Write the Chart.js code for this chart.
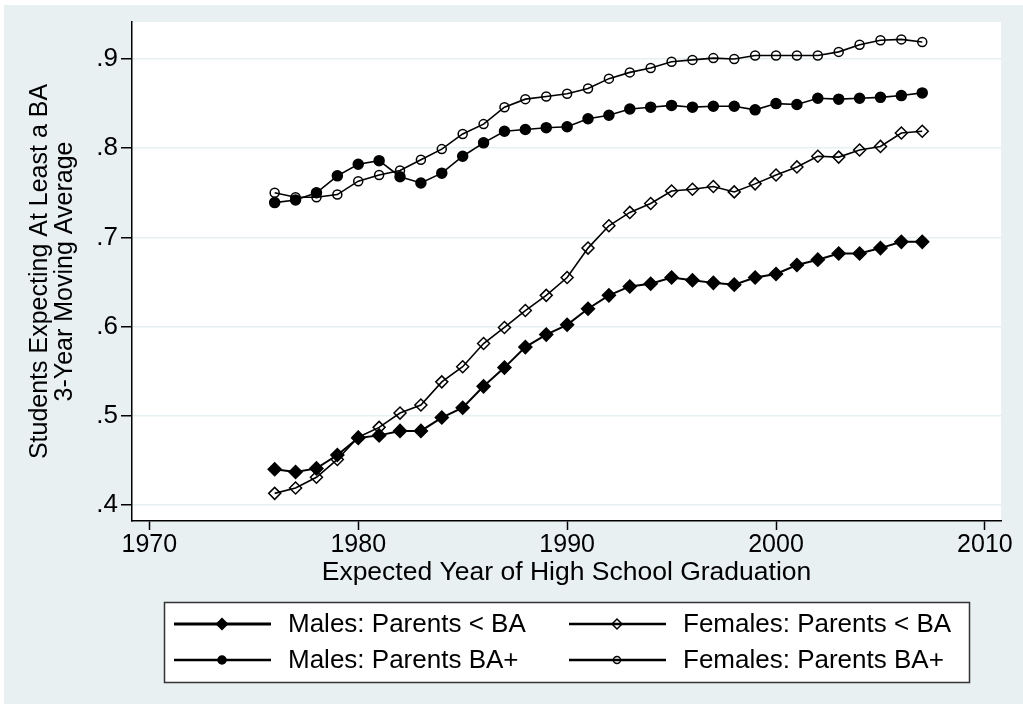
<!DOCTYPE html>
<html>
<head>
<meta charset="utf-8">
<title>Students Expecting At Least a BA</title>
<script src="https://cdn.jsdelivr.net/npm/chart.js@4"></script>
<style>
  html, body { margin: 0; padding: 0; background: #fff; }
  #wrap { width: 1023px; height: 704px; }
</style>
</head>
<body>
<div id="wrap"><canvas id="chart" width="1023" height="704"></canvas></div>
<script>
// years and 3-year moving averages
const years = [1976, 1977, 1978, 1979, 1980, 1981, 1982, 1983, 1984, 1985, 1986, 1987, 1988, 1989, 1990, 1991,
               1992, 1993, 1994, 1995, 1996, 1997, 1998, 1999, 2000, 2001, 2002, 2003, 2004, 2005, 2006, 2007];
const malesNoBA = [.440, .437, .441, .456, .475, .478, .483, .483, .498, .509, .533, .554, .577, .591, .602, .620,
                   .635, .645, .648, .655, .652, .649, .647, .655, .659, .669, .675, .682, .682, .688, .695, .695];
const femalesNoBA = [.413, .419, .431, .451, .476, .487, .503, .512, .538, .555, .581, .599, .618, .635, .655, .688,
                     .713, .728, .738, .752, .754, .757, .751, .760, .770, .779, .791, .790, .798, .802, .817, .819];
const malesBA = [.739, .742, .750, .769, .782, .786, .768, .761, .772, .791, .806, .819, .821, .823, .824, .833,
                 .837, .844, .846, .848, .846, .847, .847, .843, .850, .849, .856, .855, .856, .857, .859, .862];
const femalesBA = [.750, .745, .745, .748, .763, .770, .775, .787, .799, .816, .827, .846, .855, .858, .861, .867,
                   .878, .885, .890, .897, .899, .901, .900, .904, .904, .904, .904, .908, .916, .921, .922, .919];

const xTicks = [1970, 1980, 1990, 2000, 2010];
const yTicks = [0.4, 0.5, 0.6, 0.7, 0.8, 0.9];
const seriesNames = ['Males: Parents < BA', 'Females: Parents < BA', 'Males: Parents BA+', 'Females: Parents BA+'];

const FONT = 'Liberation Sans, Arial, sans-serif';
const BG = '#e8f0f2';

function pts(vals) {
    return years.map((yr, i) => ({ x: yr, y: vals[i] }));
}

function series(label, vals, style, radius, filled, width) {
    return {
        label: label,
        data: pts(vals),
        borderColor: '#000',
        borderWidth: width,
        pointStyle: style,
        pointRadius: radius,
        pointHoverRadius: radius,
        pointBorderWidth: 1.5,
        pointBorderColor: '#000',
        pointBackgroundColor: filled ? '#000' : 'rgba(0,0,0,0)',
        tension: 0,
        fill: false,
        legendLine: width + 1
    };
}

// page background and white plot region
const backdrop = {
    id: 'backdrop',
    beforeDraw(chart) {
        const { ctx, chartArea: a } = chart;
        ctx.save();
        ctx.fillStyle = '#fff';
        ctx.fillRect(0, 0, chart.width, chart.height);
        ctx.fillStyle = BG;
        ctx.fillRect(4, 5, chart.width - 4, chart.height - 5);
        ctx.fillStyle = '#fff';
        ctx.fillRect(a.left, a.top, a.right - a.left, a.bottom - a.top);
        ctx.restore();
    }
};

// boxed two-column legend below the plot
const boxLegend = {
    id: 'boxLegend',
    afterDraw(chart) {
        const ctx = chart.ctx;
        ctx.save();
        ctx.fillStyle = '#fff';
        ctx.fillRect(164, 602, 805, 80);
        ctx.strokeStyle = '#333';
        ctx.lineWidth = 1.5;
        ctx.strokeRect(164.5, 602.5, 805, 80);

        const colX = [174, 569];
        const rowY = [624, 660];
        chart.data.datasets.forEach((ds, i) => {
            const x0 = colX[i % 2];
            const y = rowY[Math.floor(i / 2)];
            ctx.strokeStyle = '#000';
            ctx.lineWidth = ds.legendLine;
            ctx.beginPath();
            ctx.moveTo(x0, y);
            ctx.lineTo(x0 + 97, y);
            ctx.stroke();

            ctx.fillStyle = ds.pointBackgroundColor;
            ctx.strokeStyle = '#000';
            ctx.lineWidth = 1.5;
            Chart.helpers.drawPoint(ctx, {
                pointStyle: ds.pointStyle,
                radius: ds.pointRadius - 1,
                borderWidth: 1.5,
                rotation: 0
            }, x0 + 48, y);

            ctx.fillStyle = '#000';
            ctx.font = '26px ' + FONT;
            ctx.textBaseline = 'middle';
            ctx.textAlign = 'left';
            ctx.fillText(ds.label, x0 + 114, y + 1);
        });
        ctx.restore();
    }
};

new Chart(document.getElementById('chart'), {
    type: 'line',
    data: {
        datasets: [
            series(seriesNames[0], malesNoBA, 'rectRot', 6.5, true, 2),
            series(seriesNames[1], femalesNoBA, 'rectRot', 6, false, 1.6),
            series(seriesNames[2], malesBA, 'circle', 5, true, 1.6),
            series(seriesNames[3], femalesBA, 'circle', 4.5, false, 1.6)
        ]
    },
    options: {
        responsive: false,
        animation: false,
        devicePixelRatio: 1,
        layout: { padding: { left: 0, top: 22, right: 22, bottom: 113 } },
        plugins: {
            legend: { display: false },
            tooltip: { enabled: false }
        },
        scales: {
            x: {
                type: 'linear',
                min: 1969.17,
                max: 2010.77,
                afterBuildTicks: s => { s.ticks = xTicks.map(v => ({ value: v })); },
                afterFit: s => { s.height = 70; },
                grid: { drawOnChartArea: false, tickLength: 9, tickColor: '#000', tickWidth: 1.5 },
                border: { color: '#000', width: 1.5 },
                ticks: {
                    color: '#000',
                    font: { family: FONT, size: 25 },
                    padding: 0,
                    maxRotation: 0,
                    callback: v => String(v)
                },
                title: {
                    display: true,
                    text: 'Expected Year of High School Graduation',
                    color: '#000',
                    font: { family: FONT, size: 26.5 },
                    padding: { top: 0, bottom: 2 }
                }
            },
            y: {
                min: 0.382,
                max: 0.9415,
                afterBuildTicks: s => { s.ticks = yTicks.map(v => ({ value: v })); },
                afterFit: s => { s.width = 132; },
                grid: { color: '#e6eff1', lineWidth: 1.5, tickLength: 11, tickColor: '#000', tickWidth: 1.5 },
                border: { color: '#000', width: 1.5 },
                ticks: {
                    color: '#000',
                    font: { family: FONT, size: 26 },
                    padding: 3,
                    callback: v => v.toFixed(1).replace(/^0/, '')
                },
                title: {
                    display: true,
                    text: ['Students Expecting At Least a BA', '3-Year Moving Average'],
                    color: '#000',
                    font: { family: FONT, size: 25, lineHeight: 1.0 },
                    padding: { top: 28, bottom: 0 }
                }
            }
        }
    },
    plugins: [backdrop, boxLegend]
});
</script>
</body>
</html>
